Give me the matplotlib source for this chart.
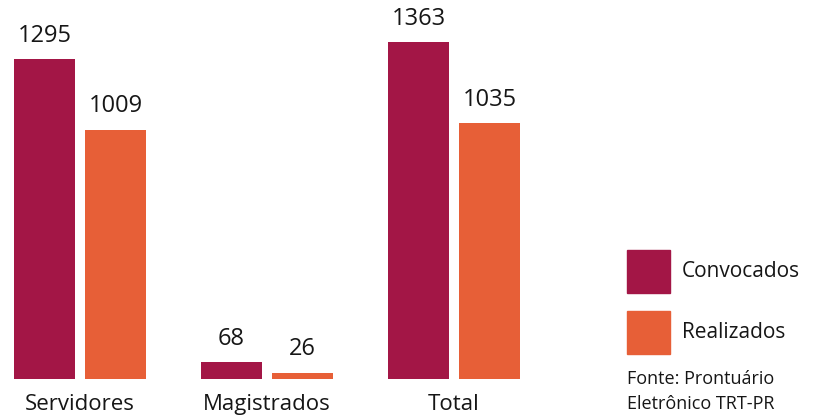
import matplotlib
matplotlib.use("Agg")
import matplotlib.pyplot as plt
import matplotlib.transforms as mtransforms
from matplotlib.patches import Rectangle

categories = ["Servidores", "Magistrados", "Total"]
convocados = [1295, 68, 1363]
realizados = [1009, 26, 1035]
series_names = ["Convocados", "Realizados"]
source_lines = ["Fonte: Prontuário", "Eletrônico TRT-PR"]

COL_CONV = "#A31646"
COL_REAL = "#E75F37"
TXT = "#161616"
FONT = "Open Sans"

W, H = 814, 417
fig = plt.figure(figsize=(W / 100, H / 100), dpi=100)
fig.patch.set_facecolor("white")


def fx(px):
    return px / W


def fy(py):
    return 1 - py / H


# plot area: bars sit on a baseline near the bottom of the figure
base_px = 379
ax = fig.add_axes([0, fy(base_px), fx(540), base_px / H])
ax.set_axis_off()

spacing = 187.0
bar_w = 61 / spacing
offset = 35.5 / spacing
ax.set_xlim(-80 / spacing, (540 - 80) / spacing)
ax.set_ylim(0, max(convocados) * base_px / (base_px - 42))

x = list(range(len(categories)))
xc = [i - offset for i in x]
xr = [i + offset for i in x]
ax.bar(xc, convocados, width=bar_w, color=COL_CONV)
ax.bar(xr, realizados, width=bar_w, color=COL_REAL)

# value labels above each bar
for xs, vals in ((xc, convocados), (xr, realizados)):
    for xi, v in zip(xs, vals):
        ax.annotate(str(v), (xi, v), xytext=(0, 8), textcoords="offset points",
                    ha="center", va="bottom", fontsize=17, color=TXT,
                    family=FONT)

# category names under each group (x in data units, y in figure units)
cat_trans = mtransforms.blended_transform_factory(ax.transData, fig.transFigure)
for xi, name in zip(x, categories):
    ax.text(xi, fy(410), name, transform=cat_trans, ha="center",
            va="baseline", fontsize=16, color=TXT, family=FONT, clip_on=False)

# legend swatches and labels
for (top, name, col) in ((250, series_names[0], COL_CONV),
                         (311, series_names[1], COL_REAL)):
    fig.patches.append(Rectangle((fx(627), fy(top + 43)), fx(43), 43 / H,
                                 transform=fig.transFigure, color=col))
    fig.text(fx(682), fy(top + 21.5), name, ha="left", va="center",
             fontsize=15, color=TXT, family=FONT)

# source note
fig.text(fx(627), fy(379), source_lines[0], ha="left", va="center",
         fontsize=13, color=TXT, family=FONT)
fig.text(fx(627), fy(404), source_lines[1], ha="left", va="center",
         fontsize=13, color=TXT, family=FONT)

fig.savefig("out.png", dpi=100, facecolor="white")
